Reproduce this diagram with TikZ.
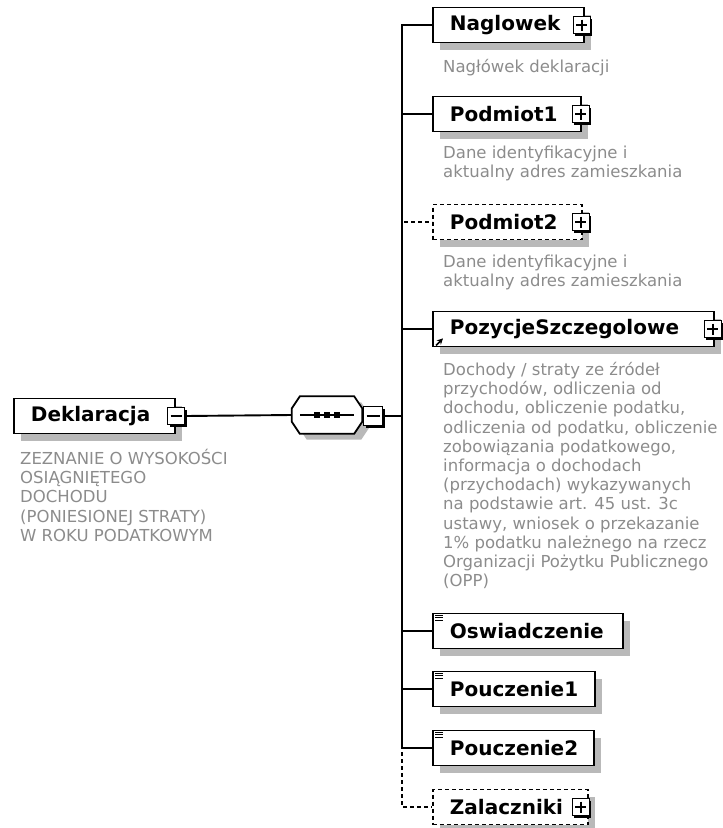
\documentclass[tikz,border=0pt]{standalone}
\usepackage{fontspec}
\setmainfont{DejaVu Sans}
\usetikzlibrary{shadows,arrows.meta}

\definecolor{descgray}{RGB}{140,140,140}
\definecolor{shadegray}{RGB}{185,185,185}

% octagon round a node
\newcommand{\octpath}[1]{([xshift=8pt]#1.north west) -- ([xshift=-8pt]#1.north east)
  -- ([yshift=-12pt]#1.north east) -- ([yshift=12pt]#1.south east)
  -- ([xshift=-8pt]#1.south east) -- ([xshift=8pt]#1.south west)
  -- ([yshift=12pt]#1.south west) -- ([yshift=-12pt]#1.north west) -- cycle}

\tikzset{
  conn/.style={line width=1.9pt},
  optconn/.style={conn, dash pattern=on 4pt off 3pt},
  elem/.style={draw, fill=white, line width=1.8pt, anchor=west, align=left,
    font=\fontsize{20}{24}\selectfont\bfseries, minimum height=35pt,
    inner xsep=17pt, inner ysep=0pt,
    general shadow={fill=shadegray, shadow xshift=7pt, shadow yshift=-7pt}},
  optelem/.style={elem, dash pattern=on 4pt off 3pt},
  desc/.style={text=descgray, font=\fontsize{16.5}{19.2}\selectfont,
    align=left, anchor=north west, inner sep=0pt},
  pmbox/.style={draw, fill=white, line width=1.5pt, minimum size=17pt, inner sep=0pt,
    general shadow={fill=black, shadow xshift=2pt, shadow yshift=-2pt}},
  plusbox/.style={pmbox, path picture={
    \draw[line width=1.5pt] ([xshift=3pt]path picture bounding box.west) -- ([xshift=-3pt]path picture bounding box.east)
      ([yshift=-3pt]path picture bounding box.north) -- ([yshift=3pt]path picture bounding box.south);}},
  minusbox/.style={pmbox, path picture={
    \draw[line width=1.5pt] ([xshift=3pt]path picture bounding box.west) -- ([xshift=-3pt]path picture bounding box.east);}},
  seqbox/.style={minimum width=70pt, minimum height=37pt, inner sep=0pt}
}

\begin{document}
\begin{tikzpicture}[x=1pt, y=-1pt]
    \useasboundingbox (0,0) rectangle (723,828);

    % root
    \node[elem, text width=127pt] (dekl) at (13,416) {Deklaracja};
    \node[minusbox] (deklM) at (176,416) {};
    \node[desc] (dekldesc) at (20,449) {ZEZNANIE O WYSOKOŚCI\\OSIĄGNIĘTEGO\\DOCHODU\\(PONIESIONEJ STRATY)\\W ROKU PODATKOWYM};

    % sequence
    \node[seqbox] (seq) at (327,415) {};
    \node[seqbox] (seqS) at (334,421) {};
    \fill[shadegray] \octpath{seqS};
    \draw[line width=1.8pt, fill=white] \octpath{seq};
    \draw[conn] ([xshift=8pt]seq.west) -- ([xshift=-8pt]seq.east);
    \foreach \dx in {-10,0,10}
        \fill ([xshift=\dx pt]seq.center) ++(-3,-3) rectangle ++(6,6);
    \node[minusbox, minimum size=19pt] (seqM) at (373,416) {};
    \coordinate (trunk) at (402,416);

    % children
    \node[elem, text width=117pt] (naglowek) at (432,25) {Naglowek};
    \node[plusbox] (naglowekP) at ([xshift=-3pt]naglowek.east) {};
    \node[desc] (naglowekD) at (443,59) {Nagłówek deklaracji};

    \node[elem, text width=114pt] (podmiot1) at (432,114) {Podmiot1};
    \node[plusbox] (podmiot1P) at ([xshift=-1pt]podmiot1.east) {};
    \node[desc] (podmiot1D) at (443,146) {Dane identyfikacyjne i\\aktualny adres zamieszkania};

    \node[optelem, text width=115pt] (podmiot2) at (432,222) {Podmiot2};
    \node[plusbox] (podmiot2P) at ([xshift=-2pt]podmiot2.east) {};
    \node[desc] (podmiot2D) at (443,255) {Dane identyfikacyjne i\\aktualny adres zamieszkania};

    \node[elem, text width=247pt] (pozycje) at (432,329) {PozycjeSzczegolowe};
    \node[plusbox] (pozycjeP) at ([xshift=-2pt]pozycje.east) {};
    \draw[-{Stealth[length=6pt,width=6pt]}, line width=1.6pt] ([shift={(4pt,2pt)}]pozycje.south west) -- ++(7pt,7pt);
    \node[desc] (pozycjeD) at (443,362) {Dochody / straty ze źródeł\\przychodów, odliczenia od\\dochodu, obliczenie podatku,\\odliczenia od podatku, obliczenie\\zobowiązania podatkowego,\\informacja o dochodach\\(przychodach) wykazywanych\\na podstawie art. 45 ust. 3c\\ustawy, wniosek o przekazanie\\1\% podatku należnego na rzecz\\Organizacji Pożytku Publicznego\\(OPP)};

    \node[elem, text width=156pt] (osw) at (432,631) {Oswiadczenie};
    \node[elem, text width=128pt] (pou1) at (432,689) {Pouczenie1};
    \node[elem, text width=127pt] (pou2) at (432,748) {Pouczenie2};
    \foreach \n in {osw,pou1,pou2}
        \foreach \dy in {2.5,5,7.5}
            \draw[line width=1pt] ([shift={(3pt,-\dy pt)}]\n.north west) -- ++(8pt,0pt);

    \node[optelem, text width=121pt] (zal) at (432,807) {Zalaczniki};
    \node[plusbox] (zalP) at ([xshift=-8pt]zal.east) {};

    % connectors
    \draw[conn] (deklM.east) -- (seq.west);
    \draw[conn] (seqM.east) -- (trunk);
    \draw[optconn] (trunk) |- (podmiot2.west);
    \draw[optconn] (trunk) |- (zal.west);
    \foreach \n in {naglowek,podmiot1,pozycje,osw,pou1,pou2}
        \draw[conn] (trunk) |- (\n.west);
\end{tikzpicture}
\end{document}
